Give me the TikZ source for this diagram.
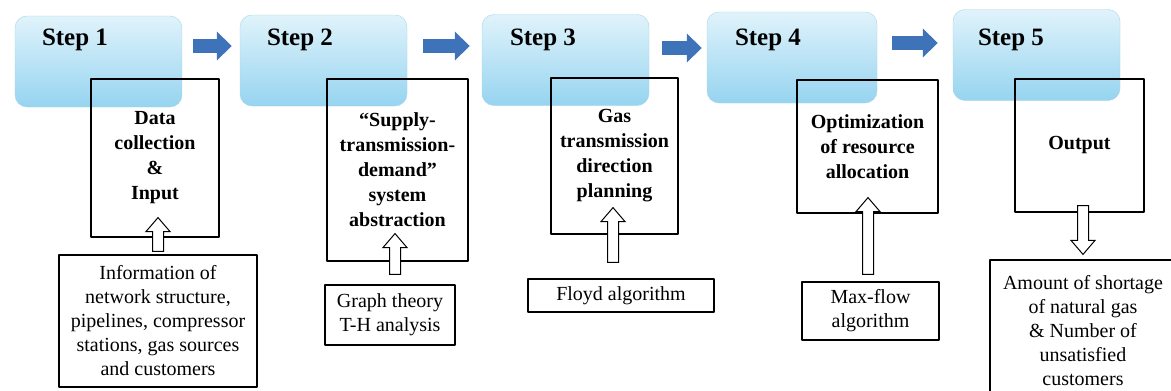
\documentclass[tikz,border=0pt]{standalone}
\usepackage{fontspec}
\setmainfont{Liberation Serif}[Ligatures=TeX]
\newfontfamily\timesfont{Liberation Serif}[Ligatures=TeX]
\usetikzlibrary{arrows.meta,calc}
\definecolor{flowblue}{RGB}{62,114,185}
\definecolor{steptop}{RGB}{224,243,251}
\definecolor{stepbot}{RGB}{150,212,240}
\definecolor{stepline}{RGB}{170,212,232}
\tikzset{
 stepbox/.style={rounded corners=12pt,draw=stepline,top color=steptop,bottom color=stepbot,minimum width=167pt,minimum height=91pt},
 steplabel/.style={anchor=base west,inner sep=0pt,font=\timesfont\fontsize{25}{30}\selectfont\bfseries},
 taskbox/.style={draw,line width=1.2pt,align=center,inner sep=0pt,font=\timesfont\fontsize{20}{25}\selectfont\bfseries},
 toolbox/.style={draw,line width=1.2pt,align=center,inner sep=0pt,font=\timesfont\fontsize{20}{24}\selectfont},
 flow/.style={flowblue,line width=14pt,-{Triangle[length=15pt,width=28pt]}},
 hollow/.style={draw,fill=white,line width=1pt,line join=miter}
}
% open block arrow from tail #1 to tip #2
\newcommand\hollowarrow[2]{%
 \draw[hollow] let \p1=(#1),\p2=(#2),\p3=($(#2)!14pt!(#1)$) in
 (\x1-5.5pt,\y1)--(\x1-5.5pt,\y3)--(\x1-12pt,\y3)--(\x1,\y2)
 --(\x1+12pt,\y3)--(\x1+5.5pt,\y3)--(\x1+5.5pt,\y1)--cycle;}
\begin{document}
\begin{tikzpicture}[x=1pt,y=-1pt,line join=round]
 \useasboundingbox (0,0) rectangle (1171,391);
 \clip (0,0) rectangle (1171,391);
 \fill[white] (0,0) rectangle (1171,391);
 \coordinate (base) at (0,45);
 % steps
 \node[stepbox] (step1) at (98.5,61.5) {};
 \node[stepbox] (step2) at (323.5,60.5) {};
 \node[stepbox] (step3) at (565.5,60) {};
 \node[stepbox,minimum width=170pt] (step4) at (792,57.5) {};
 \node[stepbox] (step5) at (1036.5,55) {};
 \node[steplabel] (lab1) at ([xshift=27pt]step1.west |- base) {Step 1};
 \node[steplabel] (lab2) at ([xshift=27pt]step2.west |- base) {Step 2};
 \node[steplabel] (lab3) at ([xshift=28pt]step3.west |- base) {Step 3};
 \node[steplabel] (lab4) at ([xshift=28pt]step4.west |- base) {Step 4};
 \node[steplabel] (lab5) at ([xshift=25pt]step5.west |- base) {Step 5};
 \draw[flow,shorten <=11pt,shorten >=8pt] ([yshift=15.5pt]step1.east) -- ([yshift=15.5pt]step1.east -| step2.west);
 \draw[flow,shorten <=16pt,shorten >=12pt] ([yshift=14.5pt]step2.east) -- ([yshift=14.5pt]step2.east -| step3.west);
 \draw[flow,shorten <=13pt,shorten >=5pt] ([yshift=12pt]step3.east) -- ([yshift=12pt]step3.east -| step4.west);
 \draw[flow,shorten <=15pt,shorten >=15pt] ([yshift=14.5pt]step4.east) -- ([yshift=14.5pt]step4.east -| step5.west);
 % tasks
 \node[taskbox,minimum width=128pt,minimum height=158pt] (task1) at (155,158) {Data\\collection\\\&\\Input};
 \node[taskbox,minimum width=141pt,minimum height=182pt] (task2) at (397.5,170) {``Supply-\\transmission-\\demand''\\system\\abstraction};
 \node[taskbox,minimum width=127pt,minimum height=156pt] (task3) at (614.5,156) {Gas\\transmission\\direction\\planning};
 \node[taskbox,minimum width=141pt,minimum height=133pt] (task4) at (867.5,146.5) {Optimization\\of resource\\allocation};
 \node[taskbox,minimum width=129pt,minimum height=133pt] (task5) at (1079.5,145.5) {Output};
 % tools and results
 \node[toolbox,minimum width=198pt,minimum height=132pt] (tool1) at (158,321) {Information of\\network structure,\\pipelines, compressor\\stations, gas sources\\and customers};
 \node[toolbox,minimum width=130pt,minimum height=60pt] (tool2) at (390,315) {Graph theory\\T-H analysis};
 \node[toolbox,minimum width=186pt,minimum height=33pt] (tool3) at (621,295.5) {Floyd algorithm};
 \node[toolbox,minimum width=137pt,minimum height=58pt] (tool4) at (870.5,311) {Max-flow\\algorithm};
 \node[toolbox,minimum width=186pt,minimum height=142pt] (tool5) at (1083,331) {Amount of shortage\\of natural gas\\\& Number of\\unsatisfied\\customers};
 \hollowarrow{[yshift=3pt]tool1.north}{[yshift=20pt]task1.south}
 \hollowarrow{[shift={(5pt,10pt)}]tool2.north}{[yshift=28pt]task2.south}
 \hollowarrow{[shift={(-8pt,16pt)}]tool3.north}{[yshift=27pt]task3.south}
 \hollowarrow{[shift={(-2.5pt,7pt)}]tool4.north}{[yshift=16pt]task4.south}
 \hollowarrow{[shift={(3.5pt,7pt)}]task5.south}{[yshift=5pt]tool5.north}
\end{tikzpicture}
\end{document}
